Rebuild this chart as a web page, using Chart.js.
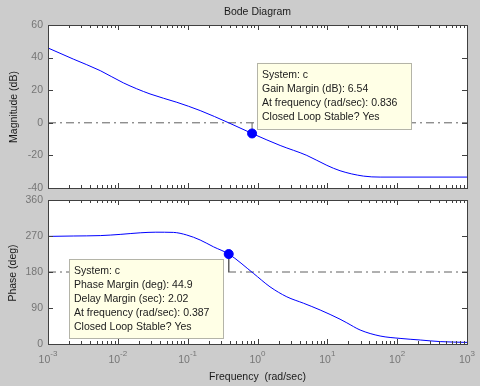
<!DOCTYPE html>
<html>
<head>
<meta charset="utf-8">
<script src="https://cdn.jsdelivr.net/npm/chart.js@4.4.1/dist/chart.umd.min.js"></script>
<style>
    body { margin: 0; background: #cccccc; }
    #wrap { position: relative; width: 480px; height: 386px; background: #cccccc; }
    canvas { position: absolute; left: 0; top: 0; }
</style>
</head>
<body>
<div id="wrap">
    <canvas id="phaseChart" width="480" height="386"></canvas>
    <canvas id="magChart" width="480" height="386"></canvas>
</div>
<script>
const magFreq = [0.001, 0.0023, 0.0056, 0.012, 0.0289, 0.0698, 0.151, 0.387, 0.836, 2.11, 5.08, 9.84, 15.2, 32.9, 57, 1000];
const magDb   = [45.9, 39.1, 32.0, 24.5, 17.7, 12.6, 7.5, 0, -6.54, -13.9, -20.0, -26.1, -29.4, -32.7, -33.3, -33.3];
const phFreq  = [0.001, 0.0023, 0.0056, 0.0108, 0.0209, 0.035, 0.0624, 0.097, 0.151, 0.234, 0.387, 0.873, 1.51, 2.63, 4.55, 7.9, 15.2, 19, 29.5, 57, 110, 214, 413, 1000];
const phDeg   = [269, 270, 271, 274, 278, 279.5, 279, 272.5, 260, 243, 224.9, 176.7, 143, 118, 102, 85, 62, 53, 35, 20, 14, 10, 6, 4];

const magTicks = [-40, -20, 0, 20, 40, 60];
const phTicks = [0, 90, 180, 270, 360];
const decades = [-3, -2, -1, 0, 1, 2, 3];

const gmFreq = 0.836, gmDb = -6.54;
const pmFreq = 0.387, pmDeg = 224.9;
const gmLines = ["System: c", "Gain Margin (dB): 6.54", "At frequency (rad/sec): 0.836", "Closed Loop Stable? Yes"];
const pmLines = ["System: c", "Phase Margin (deg): 44.9", "Delay Margin (sec): 2.02", "At frequency (rad/sec): 0.387", "Closed Loop Stable? Yes"];

const FONT = '"Liberation Sans", Arial, sans-serif';
const pts = (xs, ys) => xs.map((x, i) => ({ x: x, y: ys[i] }));

function frame(ctx, a, x, y, yTicks) {
    ctx.save();
    ctx.strokeStyle = '#404040';
    ctx.lineWidth = 1;
    ctx.beginPath();
    // ticks x (log) haut et bas
    for (let d = -3; d < 3; d++) {
        for (let m = 1; m < 10; m++) {
            const px = Math.round(x.getPixelForValue(m * Math.pow(10, d))) + 0.5;
            const len = m === 1 ? 5 : 3;
            ctx.moveTo(px, a.bottom); ctx.lineTo(px, a.bottom - len);
            ctx.moveTo(px, a.top); ctx.lineTo(px, a.top + len);
        }
    }
    yTicks.forEach(v => {
        const py = Math.round(y.getPixelForValue(v)) + 0.5;
        ctx.moveTo(a.left, py); ctx.lineTo(a.left + 5, py);
        ctx.moveTo(a.right, py); ctx.lineTo(a.right - 5, py);
    });
    ctx.stroke();
    ctx.strokeRect(Math.round(a.left) + 0.5, Math.round(a.top) + 0.5, Math.round(a.width), Math.round(a.height));
    ctx.restore();
}

function infoBox(ctx, left, top, w, h, lines) {
    ctx.save();
    ctx.fillStyle = '#ffffe6';
    ctx.strokeStyle = '#b4b4a8';
    ctx.fillRect(left, top, w, h);
    ctx.strokeRect(Math.round(left) + 0.5, Math.round(top) + 0.5, w, h);
    ctx.fillStyle = '#202020';
    ctx.font = '10.5px ' + FONT;
    ctx.textBaseline = 'middle';
    ctx.textAlign = 'left';
    lines.forEach((t, i) => ctx.fillText(t, left + 5, top + 12.5 + i * 13.8));
    ctx.restore();
}

const whiteArea = {
    id: 'whiteArea',
    beforeDraw(chart) {
        const a = chart.chartArea, ctx = chart.ctx;
        ctx.save();
        ctx.fillStyle = '#ffffff';
        ctx.fillRect(a.left, a.top, a.width, a.height);
        ctx.restore();
    }
};

function baseScales(yMin, yMax, yTicks) {
    return {
        x: { type: 'logarithmic', min: 1e-3, max: 1e3, display: false },
        y: {
            type: 'linear', min: yMin, max: yMax,
            grid: { display: false, drawTicks: false },
            border: { display: false },
            afterBuildTicks: s => { s.ticks = yTicks.map(v => ({ value: v })); },
            afterFit: s => { s.width = 48; },
            ticks: { color: '#767676', padding: 5, font: { family: FONT, size: 10.5 } }
        }
    };
}

const common = {
    responsive: false,
    animation: false,
    events: [],
    plugins: { legend: { display: false }, tooltip: { enabled: false } }
};

// ---- Magnitude ----
new Chart(document.getElementById('magChart'), {
    type: 'line',
    data: {
        datasets: [
            { data: [{ x: gmFreq, y: gmDb }], showLine: false, pointRadius: 4.5, pointBackgroundColor: '#0000ff', pointBorderColor: '#0000ff' },
            { data: pts(magFreq, magDb), borderColor: '#0000ff', borderWidth: 1, pointRadius: 0, cubicInterpolationMode: 'monotone' },
            { data: [{ x: gmFreq, y: gmDb }, { x: gmFreq, y: 0 }], borderColor: '#606060', borderWidth: 1, pointRadius: 0 },
            { data: [{ x: 1e-3, y: 0 }, { x: 1e3, y: 0 }], borderColor: '#606060', borderWidth: 1, borderDash: [8, 4, 2, 4], pointRadius: 0 }
        ]
    },
    options: Object.assign({}, common, {
        layout: { padding: { left: 0, top: 25, right: 13, bottom: 198 } },
        scales: baseScales(-40, 60, magTicks)
    }),
    plugins: [whiteArea, {
        id: 'magDeco',
        afterDraw(chart) {
            const ctx = chart.ctx, a = chart.chartArea, x = chart.scales.x, y = chart.scales.y;
            frame(ctx, a, x, y, magTicks);
            infoBox(ctx, Math.round(x.getPixelForValue(gmFreq)) + 5, y.getPixelForValue(0) - 60, 154, 66, gmLines);
            ctx.save();
            ctx.fillStyle = '#1a1a1a';
            ctx.font = '10.5px ' + FONT;
            ctx.textAlign = 'center';
            ctx.textBaseline = 'middle';
            ctx.fillText('Bode Diagram', (a.left + a.right) / 2, 12);
            ctx.translate(14, 107);
            ctx.rotate(-Math.PI / 2);
            ctx.fillText('Magnitude (dB)', 0, 0);
            ctx.restore();
        }
    }]
});

// ---- Phase ----
new Chart(document.getElementById('phaseChart'), {
    type: 'line',
    data: {
        datasets: [
            { data: [{ x: pmFreq, y: pmDeg }], showLine: false, pointRadius: 4.5, pointBackgroundColor: '#0000ff', pointBorderColor: '#0000ff' },
            { data: pts(phFreq, phDeg), borderColor: '#0000ff', borderWidth: 1, pointRadius: 0, cubicInterpolationMode: 'monotone' },
            { data: [{ x: pmFreq, y: pmDeg }, { x: pmFreq, y: 180 }], borderColor: '#606060', borderWidth: 1, pointRadius: 0 },
            { data: [{ x: 1e-3, y: 180 }, { x: 1e3, y: 180 }], borderColor: '#606060', borderWidth: 1, borderDash: [8, 4, 2, 4], pointRadius: 0 }
        ]
    },
    options: Object.assign({}, common, {
        layout: { padding: { left: 0, top: 200, right: 13, bottom: 42 } },
        scales: baseScales(0, 360, phTicks)
    }),
    plugins: [whiteArea, {
        id: 'phDeco',
        afterDraw(chart) {
            const ctx = chart.ctx, a = chart.chartArea, x = chart.scales.x, y = chart.scales.y;
            frame(ctx, a, x, y, phTicks);
            infoBox(ctx, Math.round(x.getPixelForValue(pmFreq)) - 160, y.getPixelForValue(180) - 13, 154, 79, pmLines);
            ctx.save();
            // tick labels 10^n
            ctx.fillStyle = '#767676';
            ctx.textBaseline = 'alphabetic';
            decades.forEach(d => {
                const px = x.getPixelForValue(Math.pow(10, d));
                ctx.font = '10.5px ' + FONT;
                const wb = ctx.measureText('10').width;
                ctx.font = '8px ' + FONT;
                const we = ctx.measureText(String(d)).width;
                const x0 = px - (wb + we) / 2;
                ctx.font = '10.5px ' + FONT;
                ctx.textAlign = 'left';
                ctx.fillText('10', x0, a.bottom + 19);
                ctx.font = '8px ' + FONT;
                ctx.fillText(String(d), x0 + wb, a.bottom + 12);
            });
            ctx.fillStyle = '#1a1a1a';
            ctx.font = '10.5px ' + FONT;
            ctx.textAlign = 'center';
            ctx.textBaseline = 'middle';
            ctx.fillText('Frequency  (rad/sec)', (a.left + a.right) / 2, 377);
            ctx.translate(13, 273);
            ctx.rotate(-Math.PI / 2);
            ctx.fillText('Phase (deg)', 0, 0);
            ctx.restore();
        }
    }]
});
</script>
</body>
</html>
